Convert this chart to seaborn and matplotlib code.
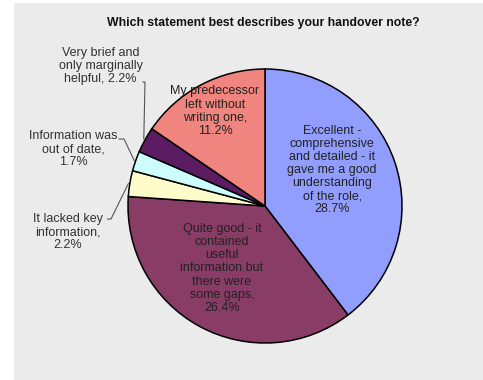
import matplotlib
matplotlib.use("Agg")
import matplotlib.pyplot as plt
import seaborn as sns
import numpy as np
from matplotlib.patches import Rectangle

# ---- data ----
categories = [
    "Excellent -\ncomprehensive\nand detailed - it\ngave me a good\nunderstanding\nof the role,",
    "Quite good - it\ncontained\nuseful\ninformation but\nthere were\nsome gaps,",
    "It lacked key\ninformation,",
    "Information was\nout of date,",
    "Very brief and\nonly marginally\nhelpful,",
    "My predecessor\nleft without\nwriting one,",
]
values = [28.7, 26.4, 2.2, 1.7, 2.2, 11.2]
colors = ["#929EFD", "#883C66", "#FFFCCB", "#CDFCFD", "#5B1C62", "#F0857F"]
title = "Which statement best describes your handover note?"

# ---- layout (label anchor positions in pie-radius units) ----
label_pos = [(0.49, 0.263), (-0.314, -0.456), (-1.44, -0.19),
             (-1.40, 0.416), (-1.20, 1.022), (-0.365, 0.693)]
pct_sep = ["\n", "\n", "\n", "\n", " ", "\n"]
inside = [True, True, False, False, False, True]
leader_anchor = {2: [(-1.150, -0.095), (-1.124, -0.095)],
                 3: [(-1.066, 0.489), (-1.029, 0.489)],
                 4: [(-0.892, 0.905), (-0.876, 0.905)]}

sns.set_theme(style="white")
plt.rcParams["font.family"] = ["Liberation Sans", "DejaVu Sans"]

W, H = 483, 380
fig = plt.figure(figsize=(W / 100, H / 100), dpi=100, facecolor="white")
fig.add_artist(Rectangle((14 / W, 0), 1, (H - 3) / H, transform=fig.transFigure,
                         facecolor="#EBEBEB", edgecolor="none", zorder=0))
ax = fig.add_axes([0, 0, 1, 1])
ax.set_facecolor("none")

cx, cy, r = 265, 206, 137

wedges, _ = ax.pie(values, colors=colors, startangle=90, counterclock=False,
                   radius=1.0, center=(0, 0), normalize=True, frame=False,
                   wedgeprops=dict(edgecolor="black", linewidth=1.1))
ax.set_xlim(-cx / r, (W - cx) / r)
ax.set_ylim((cy - H) / r, cy / r)
ax.set_aspect("auto")
ax.axis("off")

for i, (lab, v) in enumerate(zip(categories, values)):
    txt = f"{lab}{pct_sep[i]}{v:.1f}%"
    x, y = label_pos[i]
    ax.text(x, y, txt, ha="center", va="center", fontsize=9,
            color="#222222" if inside[i] else "#333333", linespacing=1.12)
    if i in leader_anchor:
        w = wedges[i]
        mid = np.deg2rad((w.theta1 + w.theta2) / 2)
        end = (np.cos(mid) * 1.01, np.sin(mid) * 1.01)
        pts = leader_anchor[i] + [end]
        ax.plot([p[0] for p in pts], [p[1] for p in pts], color="#555555", lw=0.8)

fig.text(263 / W, 1 - 23 / H, title, ha="center", va="center",
         fontsize=8.8, fontweight="bold", color="#111111")

fig.savefig("out.png", dpi=100, facecolor="white")
